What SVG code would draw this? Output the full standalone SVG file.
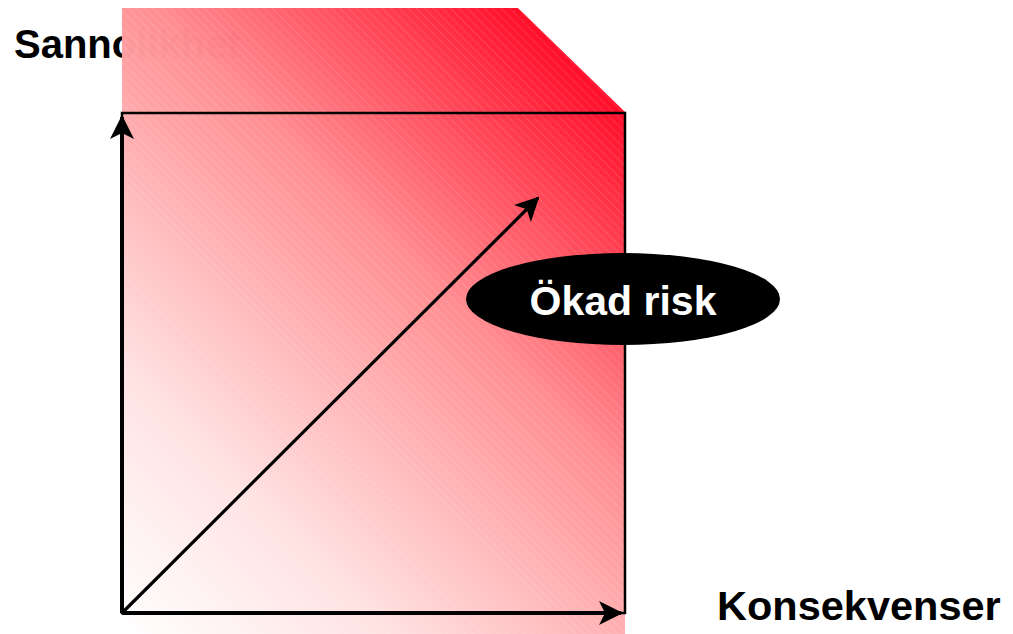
<svg xmlns="http://www.w3.org/2000/svg" width="1013" height="634" viewBox="0 0 1013 634">
  <defs>
    <linearGradient id="redGrad" gradientUnits="userSpaceOnUse" x1="122" y1="634" x2="672" y2="84">
      <stop offset="0" stop-color="#FFFFFF"/>
      <stop offset="0.24" stop-color="#FFE2E2"/>
      <stop offset="0.47" stop-color="#FFABAD"/>
      <stop offset="0.6" stop-color="#FF8C90"/>
      <stop offset="0.93" stop-color="#FF0A26"/>
      <stop offset="1" stop-color="#FF0022"/>
    </linearGradient>
    <pattern id="stripes" patternUnits="userSpaceOnUse" width="6" height="6" patternTransform="rotate(-45)">
      <line x1="0" y1="0" x2="0" y2="6" stroke="#FFFFFF" stroke-width="1" stroke-opacity="0.22"/>
    </pattern>
    <marker id="arrow" viewBox="0 0 12 12" refX="11" refY="6" markerWidth="6" markerHeight="6" markerUnits="strokeWidth" orient="auto">
      <path d="M0,0 L12,6 L0,12 L3,6 Z" fill="#000"/>
    </marker>
    <marker id="arrowThin" viewBox="0 0 12 12" refX="11" refY="6" markerWidth="7.5" markerHeight="7.5" markerUnits="strokeWidth" orient="auto">
      <path d="M0,0 L12,6 L0,12 L3,6 Z" fill="#000"/>
    </marker>
  </defs>
  <style>
    .label { font-family: "Liberation Sans", Arial, sans-serif; font-weight: bold; fill: #000; }
    .axis { stroke: #000; stroke-width: 4; fill: none; }
  </style>
  <rect x="0" y="0" width="1013" height="634" fill="#FFFFFF"/>
  <g id="label-sannolikhet">
    <text class="label" x="14" y="58" font-size="40">Sannolikhet</text>
  </g>
  <g id="background">
    <polygon points="122,8 518,8 625,112 625,634 122,634" fill="url(#redGrad)" fill-opacity="0.985"/>
    <polygon points="122,8 518,8 625,112 625,634 122,634" fill="url(#stripes)"/>
  </g>
  <g id="frame">
    <rect x="122" y="113" width="503" height="500" fill="none" stroke="#000" stroke-width="2.5"/>
  </g>
  <g id="connectors">
    <line class="axis" x1="122" y1="613" x2="122" y2="117" marker-end="url(#arrow)"/>
    <line class="axis" x1="122" y1="613" x2="621" y2="613" marker-end="url(#arrow)"/>
    <line x1="122" y1="613" x2="538" y2="198" stroke="#000" stroke-width="3.2" marker-end="url(#arrowThin)"/>
  </g>
  <g id="label-konsekvenser">
    <text class="label" x="717" y="620" font-size="41.5">Konsekvenser</text>
  </g>
  <g id="node-okad-risk">
    <ellipse cx="623" cy="299" rx="157" ry="46" fill="#000"/>
    <text x="623" y="315" font-family="Liberation Sans, Arial, sans-serif" font-weight="bold" font-size="41" fill="#FFFFFF" text-anchor="middle">Ökad risk</text>
  </g>
</svg>
